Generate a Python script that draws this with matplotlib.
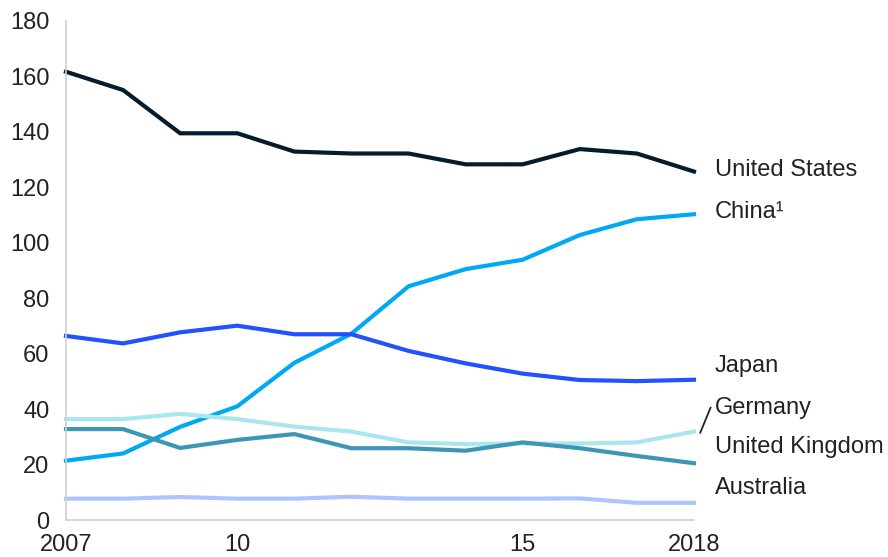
import matplotlib.pyplot as plt

plt.rcParams['font.family'] = ['Liberation Sans', 'DejaVu Sans']

years = list(range(2007, 2019))

united_states = [161.7, 155.1, 139.5, 139.5, 132.9, 132.2, 132.2, 128.3, 128.3, 133.8, 132.2, 125.7]
china = [21.4, 24.0, 33.6, 41.0, 56.7, 67.2, 84.3, 90.5, 93.9, 102.8, 108.5, 110.3]
japan = [66.4, 63.7, 67.7, 70.1, 67.0, 67.0, 61.0, 56.5, 52.8, 50.5, 50.1, 50.6]
germany = [36.4, 36.4, 38.3, 36.4, 33.7, 31.9, 28.0, 27.4, 27.6, 27.6, 28.0, 31.9]
united_kingdom = [32.8, 32.8, 26.0, 28.9, 31.0, 25.9, 25.9, 25.0, 28.0, 25.9, 23.1, 20.5]
australia = [7.7, 7.7, 8.3, 7.7, 7.7, 8.4, 7.7, 7.7, 7.7, 7.8, 6.2, 6.2]

xtick_pos = [2007, 2010, 2015, 2018]
xtick_labels = ['2007', '10', '15', '2018']
yticks = list(range(0, 181, 20))

series = [
    ('United States', united_states, '#051c2c'),
    ('China¹', china, '#00a9f4'),
    ('Japan', japan, '#2251ff'),
    ('Germany', germany, '#aae6f0'),
    ('United Kingdom', united_kingdom, '#3c96b4'),
    ('Australia', australia, '#afc3ff'),
]
# vertical spot of each end label (data units)
label_y = [126.1, 111.2, 55.6, 40.4, 26.4, 11.5]

fig = plt.figure(figsize=(8.88, 5.57), dpi=100)
ax = fig.add_axes([0.0743, 0.0664, 0.7072, 0.8959])

for (name, vals, col), ly in zip(series, label_y):
    ax.plot(years, vals, color=col, lw=3, solid_joinstyle='miter', clip_on=False)
    ax.text(2018.37, ly, name, fontsize=17, color='#222222', va='center', ha='left')

# little slash pointing Germany's label to its line
ax.plot([2018.11, 2018.29], [31.5, 40.5], color='#222222', lw=1.3, clip_on=False)

ax.set_xlim(2007, 2018)
ax.set_ylim(0, 180)
ax.set_xticks(xtick_pos)
ax.set_xticklabels(xtick_labels)
ax.set_yticks(yticks)
ax.tick_params(length=0, labelsize=17, labelcolor='#222222')
ax.tick_params(axis='y', pad=12)
ax.tick_params(axis='x', pad=10)

for s in ['top', 'right']:
    ax.spines[s].set_visible(False)
for s in ['left', 'bottom']:
    ax.spines[s].set_color('#d0d0d0')
    ax.spines[s].set_linewidth(1.2)

fig.savefig('out.png', dpi=100)
